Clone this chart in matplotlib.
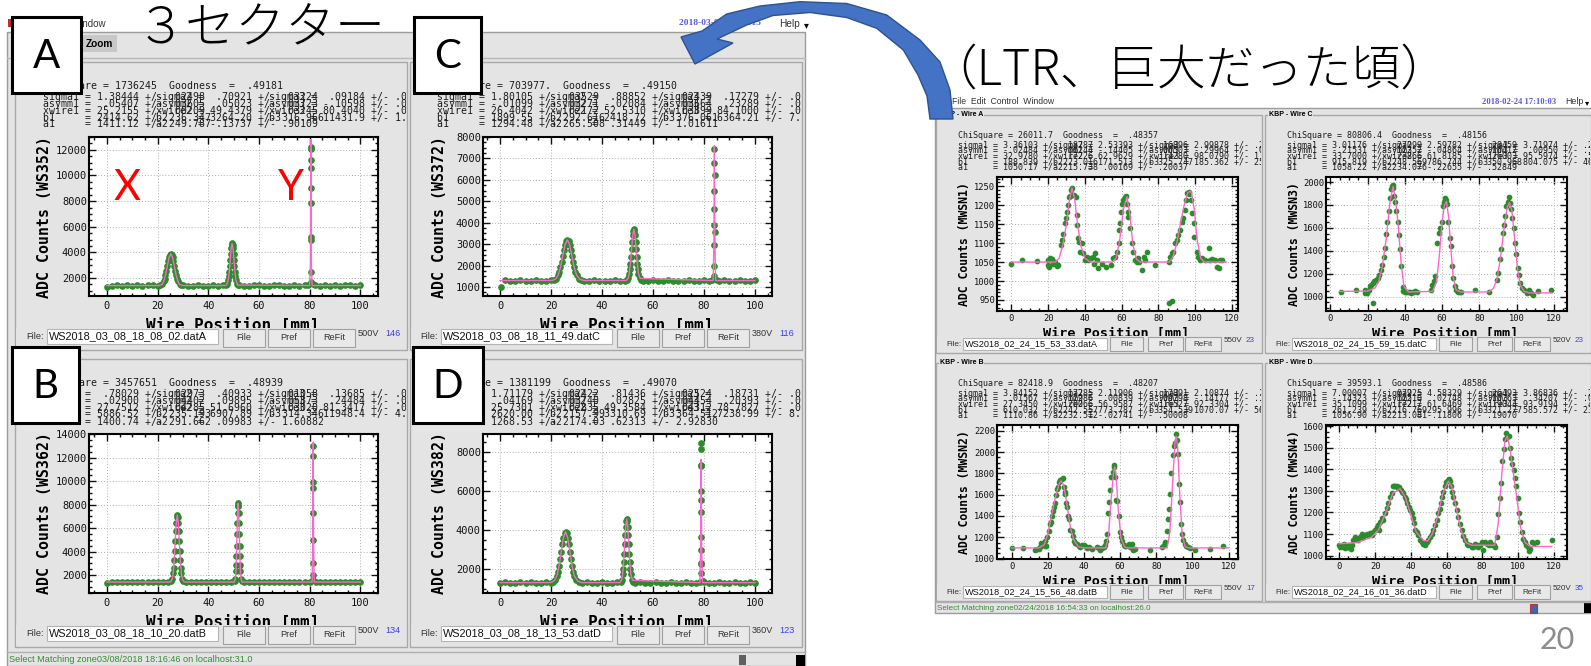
import matplotlib
matplotlib.use('Agg')
import matplotlib.pyplot as plt
from matplotlib.patches import Rectangle, Polygon
from matplotlib.ticker import MultipleLocator

plt.rcParams['font.family'] = 'DejaVu Sans Mono'

# ---------- data ----------
# left screenshot (3 sectors), panel A : WS352
a_x = [0, 2, 4, 6, 8, 10, 12, 14, 16, 18, 20,
       21.0, 21.7, 22.4, 22.75, 23.1, 23.45, 23.8, 24.15, 24.5, 24.85, 25.2,
       25.55, 25.9, 26.25, 26.6, 26.95, 27.3, 27.65, 28.0, 28.7, 29.4,
       30, 32, 34, 36, 38, 40, 42, 44, 46,
       47.15, 47.53, 47.9, 48.09, 48.28, 48.46, 48.65, 48.84, 49.03, 49.21, 49.4,
       49.59, 49.78, 49.96, 50.15, 50.34, 50.53, 50.71, 50.9, 51.28, 51.65,
       52, 54, 56, 58, 60, 62, 64, 66, 68, 70, 72, 74, 76, 78, 79.5,
       80.4, 80.5, 80.5, 80.6, 80.5, 80.4, 80.5, 80.6, 80.5, 80.5,
       81.5, 82, 84, 86, 88, 90, 92, 94, 96, 98, 100]
a_y = [1300, 1410, 1420, 1400, 1430, 1410, 1420, 1400, 1420, 1430, 1410,
       1447, 1528, 1755, 1956, 2226, 2556, 2925, 3292, 3607, 3823, 3900,
       3823, 3607, 3292, 2925, 2556, 2226, 1956, 1755, 1529, 1447,
       1420, 1400, 1410, 1430, 1410, 1400, 1420, 1410, 1430,
       1456, 1564, 1863, 2128, 2486, 2922, 3411, 3896, 4313, 4598, 4700,
       4598, 4313, 3896, 3411, 2922, 2486, 2128, 1863, 1564, 1456,
       1420, 1410, 1400, 1430, 1420, 1410, 1400, 1420, 1430, 1410, 1400, 1420, 1410, 1430, 1440,
       1690, 2470, 4945, 5203, 7890, 9031, 10547, 11195, 12030, 12234,
       1500, 1420, 1410, 1430, 1400, 1420, 1410, 1430, 1420, 1400, 1430]
a_fit_x = [0, 20.5, 21.8, 22.4, 23.1, 23.8, 24.5, 25.2, 25.9, 26.6, 27.3, 28.0, 28.6, 30,
           46.5, 47.2, 47.9, 48.28, 48.65, 49.03, 49.4, 49.78, 50.15, 50.53, 50.9, 51.6,
           80.0, 80.3, 80.5, 80.7, 81.0, 100]
a_fit_y = [1410, 1415, 1500, 1750, 2220, 2920, 3600, 3890, 3600, 2920, 2220, 1750, 1500, 1415,
           1415, 1450, 1860, 2480, 3410, 4310, 4690, 4310, 3410, 2480, 1860, 1450,
           1415, 3000, 12800, 3000, 1415, 1415]

# panel B : WS362
b_x = [0, 2, 4, 6, 8, 10, 12, 14, 16, 18, 20, 22, 24,
       25.35, 25.75, 26.15, 26.35, 26.55, 26.75, 26.95, 27.15, 27.35, 27.55, 27.75,
       27.95, 28.15, 28.35, 28.55, 28.75, 28.95, 29.15, 29.35, 29.75, 30.15,
       31, 33, 35, 37, 39, 41, 43, 45, 47, 49,
       50.45, 50.68, 50.9, 51.01, 51.13, 51.24, 51.35, 51.46, 51.58, 51.69, 51.8,
       51.91, 52.03, 52.14, 52.25, 52.36, 52.48, 52.59, 52.7, 52.93, 53.15,
       54, 56, 58, 60, 62, 64, 66, 68, 70, 72, 74, 76, 78, 80,
       81.4, 81.5, 81.4, 81.3, 81.4, 81.5, 81.4, 81.3, 81.4,
       82.5, 84, 86, 88, 90, 92, 94, 96, 98, 100]
b_y = [1300, 1400, 1390, 1410, 1400, 1380, 1410, 1400, 1390, 1410, 1400, 1390, 1410,
       1463, 1651, 2170, 2631, 3253, 4011, 4860, 5704, 6427, 6923, 7100,
       6923, 6427, 5704, 4860, 4011, 3253, 2631, 2170, 1651, 1463,
       1400, 1390, 1410, 1400, 1380, 1410, 1400, 1390, 1410, 1400,
       1474, 1695, 2305, 2847, 3578, 4469, 5467, 6459, 7309, 7892, 8100,
       7892, 7309, 6459, 5467, 4469, 3578, 2847, 2305, 1695, 1474,
       1400, 1410, 1390, 1400, 1410, 1380, 1400, 1410, 1390, 1400, 1410, 1390, 1400, 1410,
       1574, 2000, 2993, 4979, 7302, 9379, 9940, 12128, 13004,
       1420, 1400, 1390, 1410, 1400, 1380, 1410, 1400, 1390, 1400]
b_fit_x = [0, 25, 25.75, 26.15, 26.55, 26.95, 27.35, 27.75, 28.15, 28.55, 28.95, 29.35, 29.75, 30.5,
           50.3, 50.68, 50.9, 51.13, 51.35, 51.58, 51.8, 52.03, 52.25, 52.48, 52.7, 52.93, 53.3,
           81.0, 81.25, 81.4, 81.55, 81.8, 100]
b_fit_y = [1400, 1400, 1650, 2170, 3250, 4860, 6430, 7100, 6430, 4860, 3250, 2170, 1650, 1400,
           1400, 1695, 2305, 3578, 5467, 7309, 8100, 7309, 5467, 3578, 2305, 1695, 1400,
           1400, 5000, 13300, 5000, 1400, 1400]

# panel C : WS372
c_x = [0.3, 2, 4, 6, 8, 10, 12, 14, 16, 18, 20,
       21.0, 21.9, 22.8, 23.25, 23.7, 24.15, 24.6, 25.05, 25.5, 25.95, 26.4,
       26.85, 27.3, 27.75, 28.2, 28.65, 29.1, 29.55, 30.0, 30.9, 31.8,
       33, 35, 37, 39, 41, 43, 45, 47, 49,
       49.8, 50.25, 50.7, 50.93, 51.15, 51.38, 51.6, 51.83, 52.05, 52.28, 52.5,
       52.73, 52.95, 53.18, 53.4, 53.63, 53.85, 54.08, 54.3, 54.75, 55.2,
       56, 58, 60, 62, 64, 66, 68, 70, 72, 74, 76, 78, 80, 82, 83.3,
       84.0, 84.1, 84.0, 84.2, 84.1, 84.0, 84.1, 84.2, 84.0, 84.1,
       85, 86, 88, 90, 92, 94, 96, 98, 100]
c_y = [1000, 1310, 1290, 1300, 1310, 1290, 1300, 1320, 1300, 1290, 1310,
       1321, 1384, 1557, 1710, 1918, 2170, 2453, 2735, 2976, 3141, 3200,
       3141, 2976, 2735, 2453, 2170, 1918, 1710, 1557, 1384, 1321,
       1300, 1290, 1310, 1300, 1290, 1300, 1310, 1290, 1300,
       1326, 1406, 1624, 1818, 2080, 2399, 2757, 3112, 3417, 3626, 3700,
       3626, 3417, 3112, 2757, 2399, 2080, 1818, 1624, 1406, 1326,
       1300, 1290, 1310, 1300, 1290, 1310, 1300, 1290, 1300, 1310, 1290, 1300, 1310, 1290, 1330,
       1527, 1961, 2941, 3566, 3893, 4654, 5461, 6208, 6786, 7440,
       1330, 1300, 1310, 1290, 1300, 1310, 1300, 1290, 1310]
c_fit_x = [0, 20.5, 21.9, 22.8, 23.7, 24.6, 25.5, 26.4, 27.3, 28.2, 29.1, 30.0, 31.3, 33,
           49.5, 50.25, 50.7, 51.15, 51.6, 52.05, 52.5, 52.95, 53.4, 53.85, 54.3, 55.0,
           83.6, 83.9, 84.1, 84.3, 84.6, 100]
c_fit_y = [1300, 1305, 1384, 1557, 1918, 2453, 2976, 3200, 2976, 2453, 1918, 1557, 1360, 1300,
           1305, 1406, 1624, 2080, 2757, 3417, 3700, 3417, 2757, 2080, 1624, 1400,
           1300, 3000, 7600, 3000, 1300, 1300]

# panel D : WS382
d_x = [0, 2, 4, 6, 8, 10, 12, 14, 16, 18, 20,
       20.6, 21.45, 22.3, 22.73, 23.15, 23.58, 24.0, 24.43, 24.85, 25.28, 25.7,
       26.13, 26.55, 26.98, 27.4, 27.83, 28.25, 28.68, 29.1, 29.95, 30.8,
       32, 34, 36, 38, 40, 42, 44, 46,
       47.3, 47.7, 48.1, 48.3, 48.5, 48.7, 48.9, 49.1, 49.3, 49.5, 49.7,
       49.9, 50.1, 50.3, 50.5, 50.7, 50.9, 51.1, 51.3, 51.7, 52.1,
       53, 55, 57, 59, 61, 63, 65, 67, 69, 71, 73, 75, 77, 78.3,
       78.9, 79.0, 78.8, 78.9, 79.0, 78.9, 78.8, 79.0, 78.9, 78.9, 78.8, 78.9,
       79.6, 80, 82, 84, 86, 88, 90, 92, 94, 96, 98, 100]
d_y = [1300, 1310, 1300, 1290, 1310, 1300, 1320, 1300, 1290, 1310, 1300,
       1329, 1414, 1651, 1862, 2145, 2491, 2878, 3263, 3593, 3819, 3900,
       3819, 3593, 3263, 2878, 2491, 2145, 1862, 1651, 1414, 1329,
       1300, 1310, 1290, 1300, 1310, 1300, 1290, 1310,
       1336, 1443, 1739, 2002, 2356, 2789, 3273, 3754, 4166, 4449, 4550,
       4449, 4166, 3754, 3273, 2789, 2356, 2002, 1739, 1443, 1336,
       1300, 1310, 1290, 1300, 1310, 1300, 1290, 1310, 1300, 1290, 1310, 1300, 1290, 1340,
       1780, 2240, 2323, 2974, 3656, 4887, 5503, 6000, 7248, 7333, 8154, 8446,
       1400, 1310, 1300, 1290, 1310, 1300, 1290, 1310, 1300, 1290, 1310, 1300]
d_fit_x = [0, 20, 21.45, 22.3, 23.15, 24.0, 24.85, 25.7, 26.55, 27.4, 28.25, 29.1, 30.5, 32,
           47.0, 47.7, 48.1, 48.5, 48.9, 49.3, 49.7, 50.1, 50.5, 50.9, 51.3, 52.0,
           78.4, 78.7, 78.9, 79.1, 79.4, 100]
d_fit_y = [1300, 1305, 1414, 1651, 2145, 2878, 3593, 3900, 3593, 2878, 2145, 1651, 1380, 1300,
           1305, 1443, 1739, 2356, 3273, 4166, 4550, 4166, 3273, 2356, 1739, 1420,
           1300, 3000, 7600, 3000, 1300, 1300]

# right screenshot (LTR), Wire A : MWSN1
r1_x = [0, 6, 14.2, 19.8, 20.1, 20.5, 21, 22, 22.9, 23.8, 24.7, 25.6,
        26.9, 27.4, 28.3, 29.2, 29.6, 30.1, 31, 31.4, 31.9, 32.5, 32.8, 33.2, 34.3, 35, 35.6,
        35.9, 36.5, 36.8, 37.6, 38.3, 38.8, 40.1, 41, 41.9, 43.2, 44.3, 45, 45.6, 46.5, 47.4,
        49.2, 51.5, 54.1,
        55.5, 56.4, 57.4, 58.3, 58.6, 59.2, 59.7, 60.4, 61, 61.9, 62.4, 62.8, 63.3, 63.7,
        64.6, 65.5, 66.4, 67.3, 68.2, 69.1, 69.5, 71, 71.9, 72.8, 74, 78.2, 85.5, 87.3,
        86, 86.4, 87.4, 88.2, 89.1, 90, 90.9, 91.8, 92.7, 93.6, 94.2, 94.9, 95.5, 96.4, 96.9,
        97.6, 98.2, 99.1, 99.6, 100.9, 101.8, 102.7, 103.6, 105.4, 107.3, 108.2, 109.1,
        110.9, 111.8, 112.7, 113.6, 114.5]
r1_y = [1046, 1055, 1053, 1055, 1042, 1038, 1060, 1057, 1046, 1051, 1040, 1042,
        1095, 1108, 1125, 1152, 1165, 1182, 1200, 1222, 1224, 1241, 1246, 1226, 1226, 1222, 1174,
        1147, 1112, 1104, 1077, 1099, 1073, 1055, 1064, 1055, 1060, 1064, 1044, 1073, 1055, 1033,
        1046, 1036, 1042,
        1060, 1064, 1077, 1099, 1134, 1152, 1182, 1204, 1213, 1222, 1225, 1204, 1182, 1169,
        1139, 1099, 1077, 1055, 1051, 1060, 1051, 1029, 1064, 1055, 1077, 1042, 943, 947,
        1051, 1064, 1073, 1077, 1099, 1108, 1121, 1134, 1156, 1165, 1187, 1213, 1231, 1235, 1229,
        1213, 1178, 1152, 1117, 1077, 1064, 1055, 1060, 1055, 1086, 1055, 1057,
        1055, 1038, 1033, 1055, 1055]
r1_fit_x = [0, 24, 26, 28, 30, 31.5, 33, 34.5, 36, 38, 40, 43,
            55, 57, 59, 61, 62.9, 64.5, 66, 68, 70,
            86, 88, 90, 92, 94, 96, 97.8, 99.5, 101, 103, 105, 117]
r1_fit_y = [1050, 1050, 1060, 1095, 1150, 1210, 1245, 1215, 1150, 1090, 1060, 1050,
            1050, 1060, 1110, 1190, 1222, 1175, 1100, 1058, 1050,
            1050, 1065, 1100, 1150, 1200, 1233, 1237, 1190, 1110, 1060, 1050, 1050]

# Wire C : MWSN3
r2_x = [5.7, 13.8, 18.6, 18.6, 19.6, 20.9, 23.2, 21.4, 22.1, 22.7, 23.6, 24.5, 25.4, 26.3,
        27.1, 27.9, 28.6, 29.3, 30, 30.7, 31.6, 32, 32.5, 32.9, 33.6, 33.9, 34.3, 34.6, 35.4,
        36.1, 37, 37.5, 38.2, 38.8, 39.3, 40, 40.9, 41.8, 42.7, 43.6, 44.5, 45.4, 46.3,
        53.9, 54.8, 55.7, 56.3, 57.5, 58.2, 58.8, 59.8, 60.5, 61.1, 61.8, 62.1, 62.9, 63.4,
        64.1, 64.6, 65.4, 66.1, 66.8, 67.7, 68.6, 69.5, 70, 77.7, 85.2,
        89.6, 90.2, 91.1, 91.8, 92.5, 93.2, 93.9, 94.6, 95.4, 95.7, 96.4, 97.1, 97.7, 98.6,
        99.1, 99.8, 100.7, 101.4, 102.1, 103, 103.9, 105.4, 106.8, 107.9, 108.8, 111.6, 118.6]
r2_y = [1038, 1059, 1059, 1029, 1035, 1053, 947, 1088, 1103, 1118, 1132, 1147, 1162, 1191,
        1235, 1279, 1347, 1426, 1544, 1647, 1750, 1859, 1941, 1965, 1971, 1947, 1882, 1829, 1750,
        1647, 1535, 1412, 1265, 1082, 1050, 1044, 1044, 1038, 1044, 1029, 1041, 1047, 1038,
        1059, 1103, 1132, 1176, 1471, 1559, 1603, 1653, 1794, 1824, 1859, 1847, 1809, 1653,
        1515, 1441, 1271, 1162, 1088, 1059, 1044, 1041, 1038, 1059, 1044,
        1147, 1206, 1324, 1412, 1553, 1624, 1706, 1794, 1829, 1868, 1818, 1765, 1685, 1597,
        1471, 1376, 1250, 1191, 1118, 1074, 1059, 1035, 1053, 1035, 1015, 1050, 1059]
r2_fit_x = [5, 20, 24, 26, 28, 30, 32, 33.7, 35, 36.5, 38, 39.5, 42,
            55, 57, 58.5, 60, 61.3, 62.4, 63.5, 64.7, 66, 67.5, 70,
            85, 87.5, 89.5, 91.5, 93.5, 95, 96.2, 97.5, 99, 100.5, 102, 104, 107, 119]
r2_fit_y = [1045, 1048, 1075, 1130, 1270, 1500, 1820, 1960, 1850, 1620, 1300, 1090, 1040,
            1045, 1130, 1350, 1650, 1800, 1830, 1700, 1430, 1170, 1060, 1040,
            1040, 1070, 1150, 1350, 1620, 1780, 1820, 1750, 1500, 1250, 1100, 1045, 1032, 1032]

# Wire B : MWSN2
r3_x = [0, 6.3, 13.1, 14, 14.9, 15.9, 16.4, 17.1, 18.2, 19, 18.6,
        19.5, 20.5, 21, 21.8, 22.3, 22.9, 23.4, 24.1, 24.7, 25.3, 25.6, 26, 26.9, 27.8, 28.2,
        28.8, 29.3, 29.7, 30, 30.6, 31.2, 31.9, 32.4, 33.4, 33.7, 34.5, 35.2, 36.1, 37, 38,
        38.9, 39.8, 40.7, 41.7, 42.6, 44.4, 47.2, 48.1, 49, 50, 50.9, 51.8,
        52.4, 52.9, 53.3, 54, 54.6, 55.1, 55.9, 56.4, 56.8, 57.3, 57.9, 58.4, 59.2, 59.9,
        60.5, 61, 61.9, 62.5, 63.4, 64.7, 65.6, 66.5, 66.9, 68.4, 76.3,
        83.1, 84, 84.9, 85.9, 86.5, 87.2, 87.7, 88.3, 89, 89.6, 90.1, 90.9, 91.4, 92, 92.7,
        93.3, 93.8, 94.4, 94.7, 95.7, 96.4, 97.5, 98.4, 101.6, 109.9, 116.7]
r3_y = [1096, 1096, 1084, 1090, 1090, 1106, 1143, 1131, 1121, 1121, 1169,
        1200, 1263, 1326, 1341, 1404, 1445, 1483, 1521, 1593, 1656, 1672, 1719, 1741, 1750, 1760,
        1672, 1625, 1609, 1521, 1483, 1395, 1373, 1272, 1257, 1216, 1169, 1147, 1137, 1121, 1112,
        1131, 1131, 1121, 1096, 1106, 1090, 1112, 1100, 1081, 1100, 1112, 1131,
        1169, 1231, 1426, 1530, 1640, 1766, 1813, 1860, 1876, 1766, 1552, 1536, 1404, 1253,
        1206, 1169, 1131, 1121, 1121, 1137, 1106, 1137, 1081, 1090, 1081,
        1106, 1131, 1153, 1263, 1373, 1467, 1603, 1804, 1970, 2055, 2087, 2169, 2112, 1986, 1703,
        1530, 1326, 1231, 1175, 1137, 1121, 1106, 1100, 1081, 1090, 1121]
r3_fit_x = [0, 15, 18, 20, 22, 24, 26, 27.3, 28.8, 30.5, 32.5, 34.5, 37, 40,
            52, 53.5, 55, 56.3, 57, 57.8, 59, 60.5, 62.5, 64,
            86, 87.5, 89, 90.3, 91, 91.8, 93, 94.3, 96, 98, 120]
r3_fit_y = [1100, 1100, 1130, 1230, 1400, 1560, 1690, 1730, 1690, 1520, 1290, 1170, 1110, 1100,
            1100, 1200, 1550, 1800, 1860, 1780, 1450, 1190, 1110, 1100,
            1100, 1250, 1700, 2080, 2150, 2050, 1600, 1230, 1110, 1100, 1100]

# Wire D : MWSN4
r4_x = [0, 0.4, 1.3, 2.2, 2.6, 3.2, 4.1, 5, 5.6, 6.4,
        6.9, 7.9, 8.8, 9.7, 10.7, 11.6, 12.5, 13.5, 14.4, 15.3,
        16.3, 17.2, 18.1, 19.1, 20, 20.9, 21.9, 22.4, 22.8, 23.7,
        24.7, 25.6, 26.5, 27.5, 28.4, 29.3, 29.9, 30.7, 31.4, 32.1,
        32.9, 33.6, 34.4, 35.1, 35.9, 36.6, 37.4, 38.1, 38.9, 39.6,
        40.4, 41.1, 41.9, 42.6, 43.4, 44.3, 45.2, 46.2, 47.1, 48,
        49, 49.9, 50.8, 51.8, 52.7, 53.6, 54.6, 55.5, 56.1, 56.8,
        57.6, 58.3, 59.1, 59.8, 60.6, 61.3, 61.9, 62.4, 63.2, 63.9,
        64.9, 65.8, 66.7, 67.7, 68.6, 69.5, 70.5, 71.4, 72.3, 73.3,
        74.2, 75.1, 76.1, 77, 77.9, 78.9, 79.8, 80.4, 81.7, 82.6,
        83.6, 84.5, 85.4, 86.4, 87.3,
        88.2, 88.8, 89.7, 90.5, 91.2, 92, 92.5, 93.3, 94, 94.8,
        95.3, 96.1, 96.8, 97.6, 98.3, 99.1, 99.8, 100.6, 101.3, 102.1,
        102.8, 103.7, 104.7, 105.4, 106.2, 106.9, 107.9, 109.2, 110.7, 119]
r4_y = [1051, 1039, 1047, 1042, 1055, 1034, 1042, 1039, 1051, 1031,
        1047, 1070, 1086, 1078, 1070, 1086, 1098, 1086, 1094, 1102,
        1094, 1105, 1097, 1109, 1117, 1133, 1141, 1117, 1156, 1172,
        1164, 1196, 1219, 1243, 1274, 1290, 1321, 1321, 1324, 1321,
        1313, 1318, 1305, 1297, 1290, 1274, 1261, 1243, 1224, 1211,
        1196, 1172, 1149, 1120, 1109, 1094, 1070, 1062, 1055, 1051,
        1062, 1073, 1086, 1102, 1117, 1141, 1164, 1196, 1214, 1243,
        1274, 1297, 1321, 1340, 1352, 1355, 1345, 1321, 1297, 1274,
        1243, 1211, 1180, 1145, 1117, 1089, 1070, 1055, 1047, 1051,
        1042, 1039, 1055, 1047, 1039, 1051, 1062, 1026, 1062, 1055,
        1047, 1062, 1051, 1047, 1039,
        1086, 1193, 1266, 1337, 1439, 1493, 1540, 1569, 1548, 1556,
        1501, 1454, 1423, 1396, 1360, 1321, 1266, 1196, 1156, 1109,
        1078, 1062, 1051, 1039, 1023, 1031, 1062, 1058, 1062, 1073]
r4_fit_x = [0, 10, 18, 22, 26, 30, 34, 37, 40, 43, 47, 49.5, 52, 55, 58, 61, 63, 65.5, 68, 71,
            74, 87, 89, 91, 92.7, 94, 95.5, 97.5, 99.5, 101.5, 104, 107, 119]
r4_fit_y = [1055, 1060, 1085, 1120, 1200, 1290, 1310, 1270, 1190, 1110, 1070, 1068, 1100, 1180,
            1290, 1345, 1320, 1220, 1120, 1060, 1048, 1048, 1150, 1380, 1530, 1555, 1500, 1380,
            1260, 1130, 1060, 1042, 1042]

# fit result text of each panel: ChiSquare, Goodness and (value, error) per column
row_names = ['sigma', 'asymm', 'xwire', 'b', 'a']
a_chi, a_good = '1736245', '.49181'
a_rows = [[('1.38444', '.02498'), ('.70921', '.03224'), ('.09184', '.00731')],
          [('.05407', '.03605'), ('.05023', '.03723'), ('-.10598', '.06120')],
          [('25.2155', '.00209'), ('49.4379', '.03245'), ('80.4040', '.00518')],
          [('2414.62', '236.347'), ('3264.20', '316.966'), ('11431.9', '1.24519')],
          [('1411.12', '249.787'), ('-.13737', '.90109')]]
b_chi, b_good = '3457651', '.48939'
b_rows = [[('.78029', '.02973'), ('.40933', '.01058'), ('.13685', '.00614')],
          [('.02900', '.04402'), ('.09895', '.05873'), ('.24484', '.06210')],
          [('27.7512', '.04285'), ('51.6960', '.03020'), ('81.3417', '.00422')],
          [('5886.52', '235.193'), ('6907.89', '314.346'), ('11948.4', '4.12061')],
          [('1400.74', '291.662'), ('.09983', '1.60882')]]
c_chi, c_good = '703977.', '.49150'
c_rows = [[('1.80105', '.03529'), ('.88852', '.02439'), ('.17279', '.00688')],
          [('-.01099', '.03271'), ('-.02084', '.03664'), ('.23289', '.06014')],
          [('26.4042', '.02172'), ('52.5310', '.03899'), ('84.1000', '.00451')],
          [('1899.55', '292.616'), ('2418.72', '376.061'), ('6364.21', '7.95233')],
          [('1294.48', '265.508'), ('.31449', '1.01611')]]
d_chi, d_good = '1381199', '.49070'
d_rows = [[('1.71179', '.02422'), ('.81436', '.02524'), ('.18731', '.00702')],
          [('.04169', '.03740'), ('.02825', '.04454'), ('.20393', '.06131')],
          [('25.7301', '.02835'), ('49.3584', '.04312'), ('78.7827', '.00433')],
          [('2620.00', '2157.99'), ('3310.69', '364.512'), ('7238.99', '8.61230')],
          [('1268.53', '2174.03'), ('.62313', '2.92830')]]
r1_chi, r1_good = '26011.7', '.48357'
r1_rows = [[('3.36103', '.18787'), ('2.53393', '.16896'), ('2.99878', '.21804')],
           [('-.02484', '.06144'), ('-.14405', '.06503'), ('-.29964', '.07215')],
           [('32.9780', '.17226'), ('62.9629', '.14280'), ('98.0790', '1.01234')],
           [('188.839', '223.016'), ('171.513', '325.747'), ('185.362', '25.3341')],
           [('1050.17', '215.738'), ('.00169', '.20037')]]
r2_chi, r2_good = '80806.4', '.48156'
r2_rows = [[('3.01176', '.27099'), ('2.59782', '.28459'), ('3.71974', '.25170')],
           [('-.21531', '.12352'), ('-.04864', '.16412'), ('.00950', '.13344')],
           [('33.7000', '.23866'), ('61.8185', '.26003'), ('95.5974', '.51212')],
           [('915.819', '248.569'), ('786.744', '350.968'), ('804.075', '46.1038')],
           [('1058.22', '234.076'), ('-.22655', '.52849')]]
r3_chi, r3_good = '82418.9', '.48207'
r3_rows = [[('3.84152', '.17285'), ('2.11906', '.17891'), ('2.10874', '.13302')],
           [('.01567', '.12986'), ('.00839', '.09798'), ('-.14177', '.10427')],
           [('27.3450', '.20066'), ('56.9587', '.16527'), ('92.3304', '.14112')],
           [('610.032', '242.557'), ('773.787', '354.539'), ('1070.07', '56.2711')],
           [('1110.86', '232.512'), ('-.02741', '.50008')]]
r4_chi, r4_good = '39593.1', '.48586'
r4_rows = [[('7.00007', '.07925'), ('4.58329', '.26493'), ('3.86836', '.21457')],
           [('-.14323', '.12510'), ('.02748', '.10763'), ('.34207', '.08815')],
           [('35.1099', '.17217'), ('61.6469', '.19044'), ('93.9194', '.40066')],
           [('261.239', '216.769'), ('295.996', '321.277'), ('585.572', '23.4180')],
           [('1056.90', '213.081'), ('-.11806', '.19070')]]

# labels of each panel: y label, file name, voltage, count
a_info = ('ADC Counts (WS352)', 'WS2018_03_08_18_08_02.datA', '500V', '146')
b_info = ('ADC Counts (WS362)', 'WS2018_03_08_18_10_20.datB', '500V', '134')
c_info = ('ADC Counts (WS372)', 'WS2018_03_08_18_11_49.datC', '380V', '116')
d_info = ('ADC Counts (WS382)', 'WS2018_03_08_18_13_53.datD', '360V', '123')
r1_info = ('ADC Counts (MWSN1)', 'WS2018_02_24_15_53_33.datA', '550V', '23')
r2_info = ('ADC Counts (MWSN3)', 'WS2018_02_24_15_59_15.datC', '520V', '23')
r3_info = ('ADC Counts (MWSN2)', 'WS2018_02_24_15_56_48.datB', '550V', '17')
r4_info = ('ADC Counts (MWSN4)', 'WS2018_02_24_16_01_36.datD', '520V', '35')

# ---------- figure, everything placed in pixel coordinates ----------
W, H = 1591, 666
fig = plt.figure(figsize=(W / 100, H / 100), dpi=100)
fig.patch.set_facecolor('white')

GRAY = '#e4e4e4'
EDGE = '#a8a8a8'
GREEN = '#2b8c2b'
PINK = '#ff66cc'
MONO = 'DejaVu Sans Mono'
SANS = 'Liberation Sans'
JP = ['Noto Sans CJK JP', 'DejaVu Sans']


def px_axes(x0, y0, x1, y1, z):
    ax = fig.add_axes([x0 / W, 1 - y1 / H, (x1 - x0) / W, (y1 - y0) / H])
    ax.set_zorder(z)
    ax.set_xlim(x0, x1)
    ax.set_ylim(y1, y0)
    ax.axis('off')
    return ax


def rect(ax, x0, y0, x1, y1, **kw):
    ax.add_patch(Rectangle((x0, y0), x1 - x0, y1 - y0, **kw))


bg = px_axes(0, 0, W, H, 0)

# left window (3 sectors)
rect(bg, 7, 32, 805, 666, fc=GRAY, ec='#9c9c9c', lw=1)
rect(bg, 8, 19, 12, 27, fc='#c03030', ec='none')
bg.text(72, 24, 'Window', fontsize=7, family=SANS, va='center', color='#333')
bg.text(679, 23, '2018-03-08 18:18:15', fontsize=6.8, family='Liberation Serif',
        weight='bold', color='#5b5bd8', va='center')
bg.text(779, 24, 'Help', fontsize=7.3, family=SANS, va='center', color='#333')
bg.text(806, 25, '\u25be', fontsize=7, family='DejaVu Sans', ha='center', va='center')
rect(bg, 82, 35, 117, 52, fc='#c8c8c8', ec='none')
bg.text(99.5, 44, 'Zoom', fontsize=7.3, family=SANS, weight='bold', ha='center', va='center')
bg.plot([7, 805], [58, 58], color='#b8b8b8', lw=1)
bg.plot([7, 805], [652, 652], color='#b0b0b0', lw=1)
bg.text(9, 660, 'Select Matching zone03/08/2018 18:16:46 on localhost:31.0',
        fontsize=6.6, family=SANS, color='#2f8f2f', va='center')
rect(bg, 739, 655, 746, 665, fc='#606060', ec='none')
rect(bg, 796, 655, 805, 666, fc='black', ec='none')

# right window (LTR)
rect(bg, 935, 108, 1595, 613, fc=GRAY, ec='#9c9c9c', lw=1)
bg.text(952, 102, 'File  Edit  Control  Window', fontsize=6.2, family=SANS, va='center',
        color='#333')
bg.text(1482, 102, '2018-02-24 17:10:03', fontsize=6.2, family='Liberation Serif',
        weight='bold', color='#5b5bd8', va='center')
bg.text(1565, 102, 'Help', fontsize=6.4, family=SANS, va='center', color='#333')
bg.text(1587, 103, '\u25be', fontsize=6, family='DejaVu Sans', ha='center', va='center')
bg.plot([935, 1591], [602, 602], color='#b0b0b0', lw=1)
bg.text(937, 608, 'Select Matching zone02/24/2018 16:54:33 on localhost:26.0',
        fontsize=5.8, family=SANS, color='#2f8f2f', va='center')
rect(bg, 1530, 604, 1537, 613, fc='#3a6ab0', ec='#c03030', lw=0.8)
rect(bg, 1584, 603, 1591, 613, fc='black', ec='none')

bg.text(1557, 640, '20', fontsize=22, family='Lato', color='#8c8c8c', ha='center', va='center')


def draw_panel(frame, plot_box, lay, xs, ys, fx, fy, chi, good, rows, info, xlim, ylim,
               ystep, yminor, title=None):
    fx0, fy0, fx1, fy1 = frame
    rect(bg, fx0, fy0, fx1, fy1, fc='none', ec=EDGE, lw=1)
    if title:
        bg.text(fx0 + 4, fy0, title, fontsize=5, family=SANS, weight='bold', va='center',
                bbox=dict(fc=GRAY, ec='none', pad=0.6))
    pan = px_axes(fx0 + 1, fy0 + 1, fx1 - 1, fy1 - 1, 1)

    # fit summary text (clipped at the panel border, columns overlap)
    fs = lay['fs_stats']
    cw = fs * 0.602 * 100 / 72
    kw = dict(fontsize=fs, family=MONO, va='center', color='#1c1c1c', clip_on=True, zorder=3)
    sx, chi_y = lay['stats']
    pan.text(sx, chi_y, f'ChiSquare = {chi}  Goodness  =  {good}', **kw)
    for name, ry, cols in zip(row_names, lay['rows'], rows):
        for k, (val, err) in enumerate(cols):
            lab = f'{name}{k + 1}'.ljust(6)
            pan.text(sx + 19 * k * cw, ry, f'{lab} = {val:>7} +/- {err}', **kw)

    ylab, fname, volt, num = info
    pan.text(lay['ylab'][0], lay['ylab'][1], ylab, rotation=90, fontsize=lay['fs_ylab'],
             family=MONO, weight='bold', ha='center', va='center', zorder=3)
    pan.text(lay['xlab'][0], lay['xlab'][1], 'Wire Position [mm]', fontsize=lay['fs_xlab'],
             family=MONO, weight='bold', ha='center', va='baseline', zorder=3)

    # file row (covers the bottom of the x label like in the screenshot)
    st, sb = lay['strip']
    rect(pan, fx0 + 1, st, fx1 - 1, sb, fc=GRAY, ec='none', zorder=5)
    ry = lay['file_y']
    fl = lay['fs_file']
    pan.text(lay['file_lab'], ry, 'File:', fontsize=fl, family=SANS, va='center',
             color='#333', zorder=6)
    ex0, ey0, ex1, ey1 = lay['entry']
    rect(pan, ex0, ey0, ex1, ey1, fc='white', ec='#b4b4b4', lw=0.8, zorder=6)
    pan.text(ex0 + 1.5, ry, fname, fontsize=lay['fs_entry'], family=SANS, va='center',
             color='#111', zorder=7)
    by0, by1 = lay['btn_y']
    for (bx0, bx1), bl in zip(lay['buttons'], ['File', 'Pref', 'ReFit']):
        rect(pan, bx0, by0, bx1, by1, fc='#e9e9e9', ec='#a0a0a0', lw=0.8, zorder=6)
        pan.text((bx0 + bx1) / 2, ry + 1, bl, fontsize=fl, family=SANS, ha='center',
                 va='center', color='#333', zorder=7)
    pan.text(lay['volt'], ry - 3, volt, fontsize=fl, family=SANS, va='center', color='#333',
             zorder=7)
    pan.text(lay['num'], ry - 3, num, fontsize=fl, family=SANS, va='center', color='#3d3df0',
             zorder=7)

    # the plot itself
    x0, y0, x1, y1 = plot_box
    ax = fig.add_axes([x0 / W, 1 - y1 / H, (x1 - x0) / W, (y1 - y0) / H])
    ax.set_zorder(2)
    ax.set_facecolor('white')
    ax.plot(xs, ys, 'o', ms=lay['ms'], color=GREEN, mec=GREEN, zorder=3)
    ax.plot(fx, fy, '-', color=PINK, lw=1.0, zorder=4)
    ax.set_xlim(*xlim)
    ax.set_ylim(*ylim)
    ax.xaxis.set_major_locator(MultipleLocator(20))
    ax.xaxis.set_minor_locator(MultipleLocator(5))
    ax.yaxis.set_major_locator(MultipleLocator(ystep))
    ax.yaxis.set_minor_locator(MultipleLocator(yminor))
    ax.tick_params(which='both', direction='in', top=True, right=True, width=1,
                   labelsize=lay['fs_tick'], colors='#111')
    ax.tick_params(which='major', length=5)
    ax.tick_params(which='minor', length=2.5)
    ax.tick_params(axis='x', pad=lay['xpad'])
    ax.tick_params(axis='y', pad=1.5)
    ax.grid(True, which='major', color='#b0b0b0', ls=(0, (1, 2)), lw=0.7)
    for s in ax.spines.values():
        s.set_linewidth(1.5)
    return ax


def shifted(lay, dx, dy):
    out = dict(lay)
    out['stats'] = (lay['stats'][0] + dx, lay['stats'][1] + dy)
    out['rows'] = [r + dy for r in lay['rows']]
    out['ylab'] = (lay['ylab'][0] + dx, lay['ylab'][1] + dy)
    out['xlab'] = (lay['xlab'][0] + dx, lay['xlab'][1] + dy)
    out['strip'] = (lay['strip'][0] + dy, lay['strip'][1] + dy)
    out['file_y'] = lay['file_y'] + dy
    out['file_lab'] = lay['file_lab'] + dx
    e = lay['entry']
    out['entry'] = (e[0] + dx, e[1] + dy, e[2] + dx, e[3] + dy)
    out['btn_y'] = (lay['btn_y'][0] + dy, lay['btn_y'][1] + dy)
    out['buttons'] = [(b0 + dx, b1 + dx) for b0, b1 in lay['buttons']]
    out['volt'] = lay['volt'] + dx
    out['num'] = lay['num'] + dx
    return out


def box_shift(b, dx, dy):
    return (b[0] + dx, b[1] + dy, b[2] + dx, b[3] + dy)


left_lay = dict(fs_stats=7.1, stats=(43, 86), rows=[97, 104, 111, 117.5, 124.5],
                ylab=(45, 216.5), xlab=(233, 329), fs_ylab=10.7, fs_xlab=11.5,
                strip=(328, 348), file_y=336.5, file_lab=26, entry=(47, 329, 218, 344),
                btn_y=(329, 347), buttons=[(223, 265), (268, 310), (313, 355)],
                volt=358, num=385, fs_file=6.6, fs_entry=7.8, ms=3.8, fs_tick=7.5, xpad=3.5)
left_frame = (15, 62, 407, 350)
left_plot = (89, 137, 378, 296)

right_lay = dict(fs_stats=6.0, stats=(958, 135), rows=[145, 150.5, 156, 161.7, 167.3],
                 ylab=(965, 244), xlab=(1116, 336.5), fs_ylab=8.3, fs_xlab=9.7,
                 strip=(336, 352), file_y=344, file_lab=946, entry=(963, 338, 1107, 350),
                 btn_y=(337, 351), buttons=[(1110, 1143), (1148, 1183), (1185, 1221)],
                 volt=1224, num=1246, fs_file=5.8, fs_entry=6.6, ms=3.1, fs_tick=6.3, xpad=2.5)
right_frame = (936, 115, 1262, 353)
right_plot = (997, 177, 1238, 311)

LDX, LDY = 394, 297
RDX, RDY = 329, 248

draw_panel(left_frame, left_plot, left_lay, a_x, a_y, a_fit_x, a_fit_y, a_chi, a_good, a_rows,
           a_info, (-7.1, 107), (600, 13000), 2000, 500)
draw_panel(box_shift(left_frame, 0, LDY), box_shift(left_plot, 0, LDY),
           shifted(left_lay, 0, LDY), b_x, b_y, b_fit_x, b_fit_y, b_chi, b_good, b_rows,
           b_info, (-7.1, 107), (470, 14000), 2000, 500)
draw_panel(box_shift(left_frame, LDX + 1, 0), box_shift(left_plot, LDX, 0),
           shifted(left_lay, LDX, 0), c_x, c_y, c_fit_x, c_fit_y, c_chi, c_good, c_rows,
           c_info, (-6.7, 106.7), (580, 8000), 1000, 250)
draw_panel(box_shift(left_frame, LDX + 1, LDY), box_shift(left_plot, LDX, LDY),
           shifted(left_lay, LDX, LDY), d_x, d_y, d_fit_x, d_fit_y, d_chi, d_good, d_rows,
           d_info, (-6.7, 106.7), (770, 8900), 2000, 500)

draw_panel(right_frame, right_plot, right_lay, r1_x, r1_y, r1_fit_x, r1_fit_y, r1_chi,
           r1_good, r1_rows, r1_info, (-7.8, 123.3), (921, 1274), 50, 10,
           title='KBP - Wire A')
draw_panel(box_shift(right_frame, RDX, 0), box_shift(right_plot, RDX, 0),
           shifted(right_lay, RDX, 0), r2_x, r2_y, r2_fit_x, r2_fit_y, r2_chi, r2_good,
           r2_rows, r2_info, (-2.3, 127.1), (874, 2044), 200, 50, title='KBP - Wire C')
draw_panel(box_shift(right_frame, 0, RDY), box_shift(right_plot, 0, RDY),
           shifted(right_lay, 0, RDY), r3_x, r3_y, r3_fit_x, r3_fit_y, r3_chi, r3_good,
           r3_rows, r3_info, (-8.1, 125.2), (996, 2254), 200, 50, title='KBP - Wire B')
draw_panel(box_shift(right_frame, RDX, RDY), box_shift(right_plot, RDX, RDY),
           shifted(right_lay, RDX, RDY), r4_x, r4_y, r4_fit_x, r4_fit_y, r4_chi, r4_good,
           r4_rows, r4_info, (-7.5, 127.5), (984, 1606), 100, 25, title='KBP - Wire D')

# ---------- slide annotations on top ----------
top = px_axes(0, 0, W, H, 3)

top.text(136, 29, '３セクター', fontsize=36, family=JP, weight='light', va='center')
top.text(928, 71, '（LTR、巨大だった頃）', fontsize=35, family=JP, weight='light',
         va='center')

for lab, (x0, y0, x1, y1) in zip('ABCD', [(12, 17, 81, 93), (12, 347, 79, 423),
                                         (414, 17, 481, 93), (413, 347, 483, 423)]):
    rect(top, x0, y0, x1, y1, fc='white', ec='black', lw=2.2)
    top.text((x0 + x1) / 2, (y0 + y1) / 2 + 1, lab, fontsize=29, family='Lato',
             ha='center', va='center')

top.text(127, 188, 'X', fontsize=30, family='Lato', color='red', ha='center', va='center')
top.text(291, 188, 'Y', fontsize=30, family='Lato', color='red', ha='center', va='center')

# curved blue arrow from the LTR screenshot to the 3-sector screenshot
arrow = [(695, 64), (733, 43), (717, 39), (746.7, 25), (773, 15.5), (810, 12.5),
         (846.7, 17.5), (876.7, 28.3), (903.3, 50), (918, 75), (927, 96), (930, 119),
         (953, 119), (950, 90), (940, 62), (920, 40), (886.7, 15), (846.7, 3.5), (800, 1.7),
         (760, 6), (726.7, 14), (702, 31), (681, 37)]
top.add_patch(Polygon(arrow, closed=True, fc='#4472c4', ec='#2f528f', lw=1))

fig.savefig('out.png', dpi=100, facecolor='white')
